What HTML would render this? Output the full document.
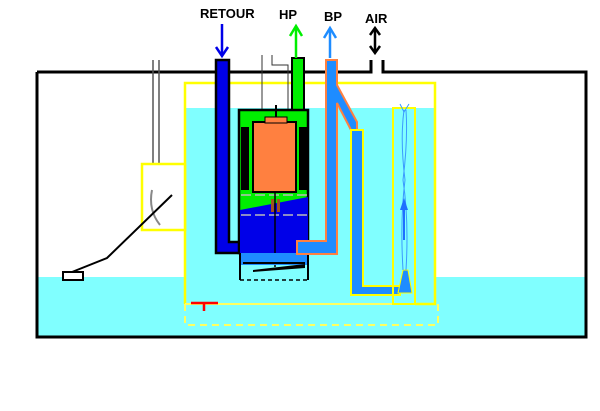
<!DOCTYPE html>
<html><head><meta charset="utf-8"><style>body{margin:0;background:#fff}svg{display:block}</style></head><body>
<svg width="600" height="411" xmlns="http://www.w3.org/2000/svg" font-family="Liberation Sans, sans-serif">
<rect width="600" height="411" fill="#fff"/>
<!-- outside water -->
<rect x="37" y="277" width="549" height="60" fill="#80FFFF"/>
<!-- inner water -->
<rect x="185" y="108" width="251" height="217" fill="#80FFFF"/>
<!-- outer tank -->
<path d="M37 72 H371 V60 M383 60 V72 H586 V337 H37 V72" fill="none" stroke="#000" stroke-width="3"/>
<!-- yellow inner box -->
<path d="M185 304 V83 H435 V304 H415" fill="none" stroke="#FFFF00" stroke-width="2.5"/>
<path d="M185 304 V325 H438 V304" fill="none" stroke="#FFFF60" stroke-width="2" stroke-dasharray="7,5"/>
<line x1="185" y1="304" x2="398" y2="304" stroke="#FFFF60" stroke-width="2"/>
<!-- red T -->
<path d="M191 303 H218 M204 303 V311" stroke="#f00" stroke-width="2.5"/>
<!-- left float box -->
<line x1="153" y1="60" x2="153" y2="164" stroke="#555" stroke-width="1.5"/>
<line x1="159" y1="60" x2="159" y2="164" stroke="#555" stroke-width="1.5"/>
<rect x="142" y="164" width="43" height="66" fill="#fff" stroke="#FFFF00" stroke-width="2.5"/>
<path d="M152 190 Q148 210 160 225" fill="none" stroke="#888" stroke-width="2"/>
<polyline points="72,272 107,258 172,195" fill="none" stroke="#000" stroke-width="2"/>
<rect x="63" y="272" width="20" height="8" fill="#fff" stroke="#000" stroke-width="2"/>
<!-- thin lines into pump -->
<line x1="262" y1="55" x2="262" y2="125" stroke="#333" stroke-width="1"/>
<polyline points="272,55 272,65 288,65 288,125" fill="none" stroke="#333" stroke-width="1"/>
<!-- RETOUR pipe -->
<path d="M216 60 H229 V242 H240 V253 H216 Z" fill="#0000E8" stroke="#000" stroke-width="2.5"/>
<!-- HP pipe -->
<rect x="292" y="58" width="12" height="55" fill="#00EE00" stroke="#000" stroke-width="2"/>
<!-- pump body -->
<rect x="239" y="110" width="69" height="143" fill="#00EE00" stroke="#000" stroke-width="2.5"/>
<polygon points="240,210 308,197 308,253 240,253" fill="#0000E8"/>
<rect x="241" y="127" width="8" height="63" fill="#000"/>
<rect x="299" y="127" width="8" height="63" fill="#000"/>
<line x1="241" y1="195" x2="307" y2="195" stroke="#bbb" stroke-width="1.5" stroke-dasharray="10,4"/>
<line x1="241" y1="215" x2="307" y2="215" stroke="#bbb" stroke-width="1.5" stroke-dasharray="10,4"/>
<rect x="253" y="122" width="43" height="70" fill="#FF8040" stroke="#000" stroke-width="2"/>
<rect x="265" y="117" width="22" height="6" fill="#FF8040" stroke="#000" stroke-width="1"/>
<line x1="276" y1="105" x2="276" y2="117" stroke="#000" stroke-width="2"/>
<rect x="271" y="199" width="3" height="13" fill="#a05020"/>
<rect x="277" y="199" width="3" height="13" fill="#a05020"/>
<line x1="275" y1="192" x2="275" y2="267" stroke="#000" stroke-width="1.5"/>
<!-- under pump -->
<rect x="240" y="253" width="68" height="12" fill="#1E8CFF"/>
<path d="M240 253 V280 M308 253 V280" stroke="#000" stroke-width="2"/>
<line x1="240" y1="280" x2="308" y2="280" stroke="#000" stroke-width="1.5" stroke-dasharray="4,3"/>
<line x1="243" y1="263" x2="305" y2="263" stroke="#000" stroke-width="2"/>
<polygon points="253,270 305,264 305,268 253,272" fill="#000"/>
<!-- BP pipe -->
<path d="M326 60 H337 V85 L357 122 V180 H351 V130 L337 103 V254 H297 V241 H326 Z" fill="#1E8CFF" stroke="#FF8040" stroke-width="2"/>
<path d="M296 241 H308 V253" fill="none" stroke="#000" stroke-width="0"/>
<!-- U tube -->
<path d="M351 130 H363 V286 H400 V295 H351 Z" fill="#1E8CFF" stroke="#FFFF00" stroke-width="2"/>
<!-- air riser -->
<rect x="393" y="108" width="22" height="196" fill="none" stroke="#FFFF00" stroke-width="2"/>
<polygon points="403,270 408,270 412,293 398,293" fill="#1E8CFF" stroke="#FFFF00" stroke-width="1"/>
<path d="M403 270 Q400 220 405 180 Q400 140 404 110 M406 270 Q409 220 403 180 Q408 140 406 110" fill="none" stroke="#3A9AFF" stroke-width="1"/>
<path d="M400 104 L404 112 L409 104" fill="none" stroke="#3A9AFF" stroke-width="1"/>
<polygon points="404,198 400,210 408,210" fill="#1E70FF"/>
<line x1="404" y1="205" x2="404" y2="240" stroke="#1E70FF" stroke-width="2"/>
<!-- labels & arrows -->
<g font-weight="bold" font-size="13" fill="#000">
<text x="200" y="18">RETOUR</text>
<text x="279" y="19">HP</text>
<text x="324" y="21">BP</text>
<text x="365" y="23">AIR</text>
</g>
<line x1="222" y1="24" x2="222" y2="55" stroke="#0000E8" stroke-width="2.5"/>
<path d="M216 47 L222 56 L228 47" fill="none" stroke="#0000E8" stroke-width="2.5"/>
<line x1="296" y1="28" x2="296" y2="58" stroke="#00EE00" stroke-width="2.5"/>
<path d="M290 36 L296 26 L302 36" fill="none" stroke="#00EE00" stroke-width="2.5"/>
<line x1="330" y1="30" x2="330" y2="58" stroke="#1E8CFF" stroke-width="2.5"/>
<path d="M324 38 L330 28 L336 38" fill="none" stroke="#1E8CFF" stroke-width="2.5"/>
<line x1="375" y1="29" x2="375" y2="52" stroke="#000" stroke-width="2.5"/>
<path d="M370 35 L375 28 L380 35 M370 46 L375 53 L380 46" fill="none" stroke="#000" stroke-width="2.5"/>
</svg>
</body></html>
